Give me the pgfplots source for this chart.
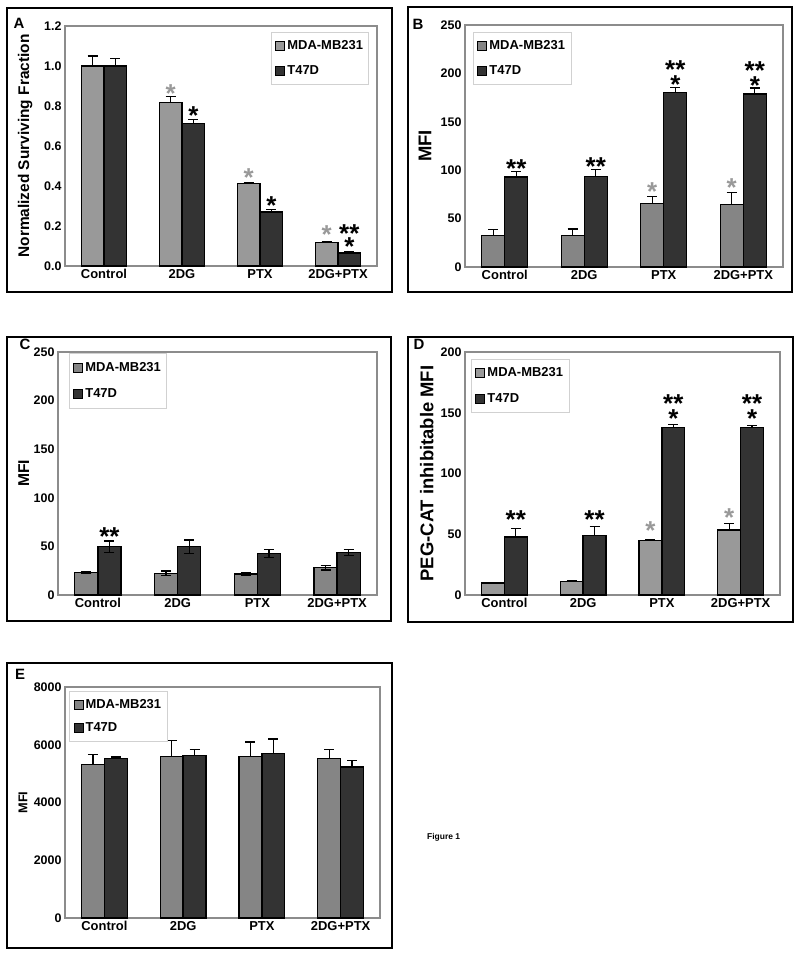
\documentclass[border=0pt]{standalone}
\usepackage{fontspec}
\setmainfont{Liberation Sans}
\usepackage{pgfplots}
\pgfplotsset{compat=1.18}
\definecolor{lg}{gray}{0.6}
\definecolor{mg}{gray}{0.52}
\definecolor{dk}{gray}{0.2}
\definecolor{ax}{gray}{0.55}
\definecolor{lgd}{gray}{0.82}
\definecolor{sg}{gray}{0.6}
\tikzset{st/.style={font=\fontsize{26}{26}\selectfont\bfseries, inner sep=0pt, anchor=base, yshift=-14.8bp}}
\pgfplotsset{
 panel/.style={
  scale only axis, clip=false,
  axis line style={draw=ax, line width=1.6bp},
  ybar=0pt, bar width=0.29,
  xmin=-0.5, xmax=3.5, xtick={0,1,2,3}, xticklabels={Control,2DG,PTX,2DG+PTX},
  major tick length=0pt, minor tick length=0pt,
  ymin=0, scaled y ticks=false,
  yticklabel style={font=\fontsize{12.5}{12.5}\selectfont\bfseries},
  xticklabel style={font=\fontsize{13}{13}\selectfont\bfseries},
  /pgf/number format/assume math mode=true,
  /pgf/number format/1000 sep={},
  ylabel style={anchor=center},
  legend style={draw=lgd, line width=1bp, font=\fontsize{13}{13}\selectfont\bfseries, anchor=north west, legend cell align=left, row sep=11bp, inner xsep=4bp, inner ysep=6bp},
  legend image code/.code={\draw[#1, line width=1bp] (0bp,-4.5bp) rectangle (9bp,4.5bp);},
  error bars/y dir=plus, error bars/y explicit,
  error bars/error bar style={black, line width=1.3bp},
  error bars/error mark options={rotate=90, mark size=5bp, line width=1.3bp, black},
 },
}
\begin{document}
\begin{tikzpicture}[x=1bp,y=1bp]
\path[use as bounding box] (0,0) rectangle (800,955);
% frames
\draw[line width=1.6bp] (7,947) rectangle (392,663);
\draw[line width=1.6bp] (408,948) rectangle (792,663);
\draw[line width=1.6bp] (7,618) rectangle (391,334);
\draw[line width=1.6bp] (408,618) rectangle (793,333);
\draw[line width=1.6bp] (7,292) rectangle (392,7);
\node[font=\fontsize{15}{15}\selectfont\bfseries] at (19,932) {A};
\node[font=\fontsize{15}{15}\selectfont\bfseries] at (418,931) {B};
\node[font=\fontsize{15}{15}\selectfont\bfseries] at (25,611) {C};
\node[font=\fontsize{15}{15}\selectfont\bfseries] at (419,611) {D};
\node[font=\fontsize{15}{15}\selectfont\bfseries] at (20,281) {E};
\node[font=\fontsize{8.5}{8.5}\selectfont\bfseries, anchor=west, inner sep=0pt] at (427,118) {Figure 1};

% ---------- A ----------
\begin{axis}[panel, at={(65bp,689bp)}, anchor=south west, width=312bp, height=240bp,
  ymax=1.2, ytick={0,0.2,...,1.2},
  yticklabel style={/pgf/number format/fixed, /pgf/number format/fixed zerofill, /pgf/number format/precision=1},
  ylabel={Normalized Surviving Fraction},
  ylabel style={font=\fontsize{15.5}{15.5}\selectfont\bfseries, at={(axis description cs:-0.128,0.5)}},
  legend style={at={(0.66,0.975)}}]
\addplot[fill=lg, draw=black, line width=1.3bp] coordinates {(0,1.0) +- (0,0.05) (1,0.816) +- (0,0.03) (2,0.412) +- (0,0.005) (3,0.117) +- (0,0.004)};
\addplot[fill=dk, draw=black, line width=1.3bp] coordinates {(0,1.0) +- (0,0.038) (1,0.713) +- (0,0.02) (2,0.27) +- (0,0.012) (3,0.065) +- (0,0.005)};
\legend{MDA-MB231,T47D}
\node[st, sg] at (axis cs:0.855,0.89) {*};
\node[st] at (axis cs:1.145,0.78) {*};
\node[st, sg] at (axis cs:1.855,0.47) {*};
\node[st] at (axis cs:2.145,0.33) {*};
\node[st, sg] at (axis cs:2.855,0.185) {*};
\node[st] at (axis cs:3.145,0.19) {**};
\node[st] at (axis cs:3.145,0.125) {*};
\end{axis}

% ---------- B ----------
\begin{axis}[panel, at={(465bp,688bp)}, anchor=south west, width=318bp, height=242bp,
  ymax=250, ytick={0,50,...,250},
  ylabel={MFI},
  ylabel style={font=\fontsize{18.5}{18.5}\selectfont\bfseries, at={(axis description cs:-0.126,0.5)}},
  legend style={at={(0.025,0.971)}}]
\addplot[fill=mg, draw=black, line width=1.3bp] coordinates {(0,32.8) +- (0,5.8) (1,32.8) +- (0,6.5) (2,65.6) +- (0,6.9) (3,64.8) +- (0,12.5)};
\addplot[fill=dk, draw=black, line width=1.3bp] coordinates {(0,93.1) +- (0,5.2) (1,93.8) +- (0,6.9) (2,180.4) +- (0,5.2) (3,178.7) +- (0,6.1)};
\legend{MDA-MB231,T47D}
\node[st] at (axis cs:0.145,108.2) {**};
\node[st] at (axis cs:1.145,109.5) {**};
\node[st] at (axis cs:2.145,210.4) {**};
\node[st] at (axis cs:2.145,194.2) {*};
\node[st, sg] at (axis cs:1.855,84) {*};
\node[st] at (axis cs:3.145,209.4) {**};
\node[st] at (axis cs:3.145,193.2) {*};
\node[st, sg] at (axis cs:2.855,88.1) {*};
\end{axis}

% ---------- C ----------
\begin{axis}[panel, at={(58bp,360bp)}, anchor=south west, width=319bp, height=243bp,
  ymax=250, ytick={0,50,...,250},
  error bars/y dir=both,
  ylabel={MFI},
  ylabel style={font=\fontsize{15.7}{15.7}\selectfont\bfseries, at={(axis description cs:-0.107,0.5)}},
  legend style={at={(0.034,0.996)}, row sep=12bp, inner ysep=7bp}]
\addplot[fill=mg, draw=black, line width=1.3bp] coordinates {(0,22.9) +- (0,1) (1,22.3) +- (0,2.5) (2,21.6) +- (0,1.5) (3,28) +- (0,2.4)};
\addplot[fill=dk, draw=black, line width=1.3bp] coordinates {(0,49.6) +- (0,6) (1,49.6) +- (0,7) (2,42.8) +- (0,4) (3,43.5) +- (0,3)};
\legend{MDA-MB231,T47D}
\node[st] at (axis cs:0.145,66.2) {**};
\end{axis}

% ---------- D ----------
\begin{axis}[panel, at={(465bp,360bp)}, anchor=south west, width=315bp, height=243bp,
  ymax=200, ytick={0,50,...,200},
  ylabel={PEG-CAT inhibitable MFI},
  ylabel style={font=\fontsize{18.5}{18.5}\selectfont\bfseries, at={(axis description cs:-0.121,0.5)}},
  legend style={at={(0.019,0.971)}, row sep=12bp}]
\addplot[fill=lg, draw=black, line width=1.3bp] coordinates {(0,9.9) +- (0,0.6) (1,10.9) +- (0,0.6) (2,44.7) +- (0,1) (3,53.5) +- (0,5.5)};
\addplot[fill=dk, draw=black, line width=1.3bp] coordinates {(0,47.7) +- (0,7) (1,48.8) +- (0,7.7) (2,138) +- (0,2.4) (3,137.7) +- (0,1.6)};
\legend{MDA-MB231,T47D}
\node[st] at (axis cs:0.145,67.2) {**};
\node[st] at (axis cs:1.145,67.2) {**};
\node[st] at (axis cs:2.145,162.7) {**};
\node[st] at (axis cs:2.145,150) {*};
\node[st, sg] at (axis cs:1.855,57.6) {*};
\node[st] at (axis cs:3.145,162.7) {**};
\node[st] at (axis cs:3.145,150) {*};
\node[st, sg] at (axis cs:2.855,68.6) {*};
\end{axis}

% ---------- E ----------
\begin{axis}[panel, at={(65bp,37bp)}, anchor=south west, width=315bp, height=231bp,
  ymax=8000, ytick={0,2000,...,8000},
  ylabel={MFI},
  ylabel style={font=\fontsize{12.8}{12.8}\selectfont\bfseries, at={(axis description cs:-0.133,0.5)}},
  legend style={at={(0.013,0.983)}, row sep=9bp}]
\addplot[fill=mg, draw=black, line width=1.3bp] coordinates {(0,5310) +- (0,345) (1,5597) +- (0,541) (2,5597) +- (0,496) (3,5517) +- (0,311)};
\addplot[fill=dk, draw=black, line width=1.3bp] coordinates {(0,5517) +- (0,55) (1,5631) +- (0,197) (2,5700) +- (0,495) (3,5230) +- (0,230)};
\legend{MDA-MB231,T47D}
\end{axis}
\end{tikzpicture}
\end{document}
